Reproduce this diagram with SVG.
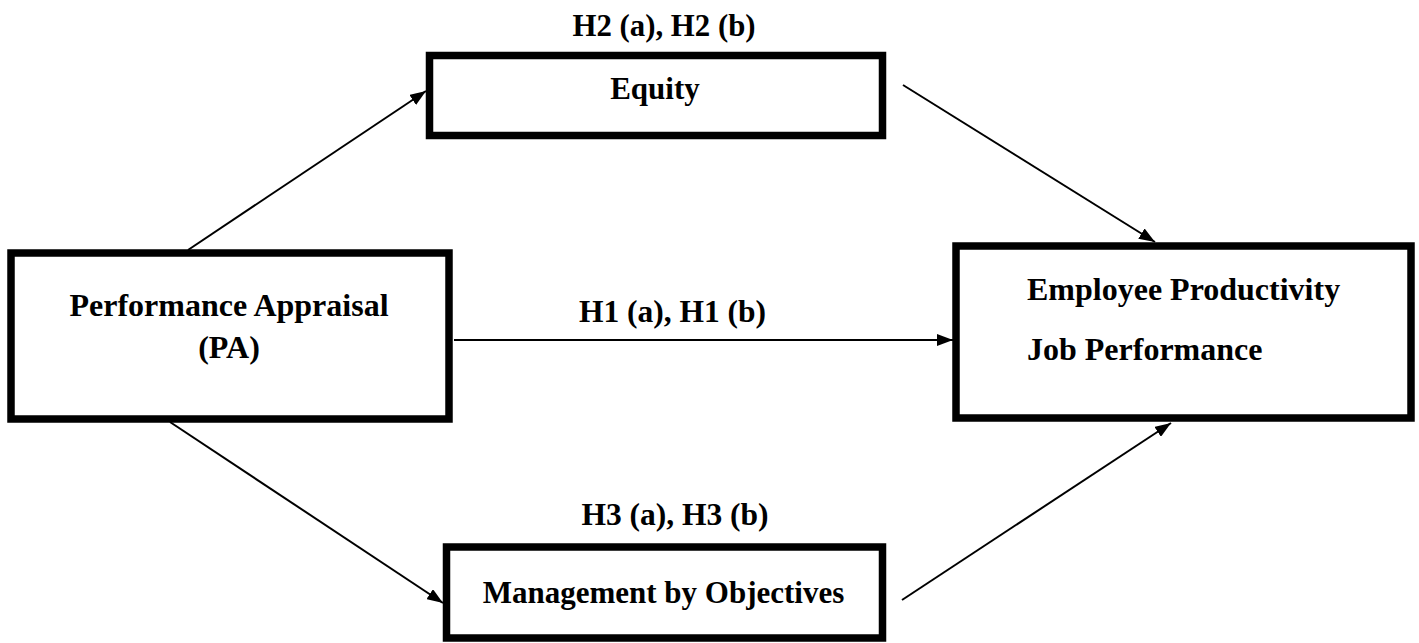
<svg xmlns="http://www.w3.org/2000/svg" width="1419" height="643" viewBox="0 0 1419 643">
<style>
.box{fill:#fff;stroke:#000;stroke-width:7.5}
text{font-family:'Liberation Serif','Tinos','DejaVu Serif',serif;font-weight:700;fill:#000}
.t{font-size:31px}
.tl{font-size:32px}
.h{font-size:31.5px}
.h2{font-size:30.8px}
.c{text-anchor:middle}
.ln{stroke:#000;stroke-width:2;fill:none;marker-end:url(#ah)}
</style>
<defs>
<marker id="ah" viewBox="0 0 16 12" refX="16" refY="6" markerWidth="16" markerHeight="12" markerUnits="userSpaceOnUse" orient="auto">
<path d="M0,0 L16,6 L0,12 Z" fill="#000"/>
</marker>
</defs>
<rect width="1419" height="643" fill="#fff"/>
<g id="connectors">
<line class="ln" x1="188" y1="250" x2="426" y2="91"/>
<line class="ln" x1="170" y1="422" x2="443" y2="603"/>
<line class="ln" x1="454" y1="340" x2="953" y2="340"/>
<line class="ln" x1="903" y1="85" x2="1155" y2="242"/>
<line class="ln" x1="902" y1="600" x2="1171" y2="423"/>
</g>
<g id="pa">
<rect class="box" x="11" y="253" width="438" height="166"/>
<text class="tl c" x="229" y="316">Performance Appraisal</text>
<text class="tl c" x="229" y="358">(PA)</text>
</g>
<g id="equity">
<rect class="box" x="429.5" y="55.5" width="453" height="80"/>
<text class="t c" x="655" y="99">Equity</text>
</g>
<g id="mbo">
<rect class="box" x="446.5" y="547" width="436" height="91"/>
<text class="t c" x="663.5" y="603">Management by Objectives</text>
</g>
<g id="ep">
<rect class="box" x="956" y="246" width="455" height="172"/>
<text class="tl" x="1027" y="300">Employee Productivity</text>
<text class="tl" x="1027" y="360">Job Performance</text>
</g>
<g id="labels">
<text class="h2 c" x="664" y="36">H2 (a), H2 (b)</text>
<text class="h c" x="672.5" y="322">H1 (a), H1 (b)</text>
<text class="h c" x="675" y="525">H3 (a), H3 (b)</text>
</g>
</svg>
